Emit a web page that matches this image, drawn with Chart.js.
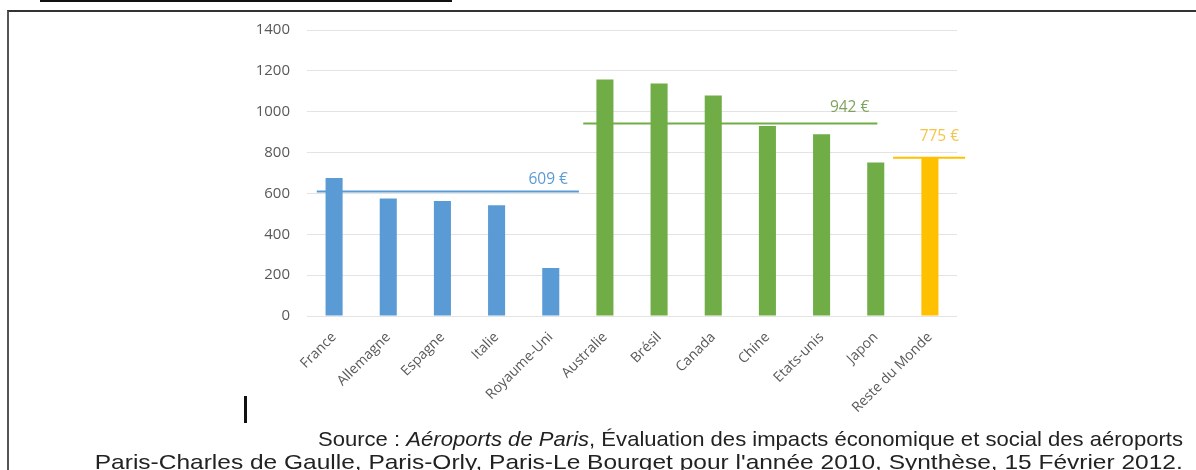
<!DOCTYPE html>
<html>
<head>
<meta charset="utf-8">
<script src="https://cdn.jsdelivr.net/npm/chart.js@4/dist/chart.umd.min.js"></script>
<style>
  html, body { margin: 0; padding: 0; background: #fff; }
  body { width: 1196px; height: 470px; position: relative; overflow: hidden; }
  #wrap { position: absolute; left: 0; top: 0; width: 1196px; height: 470px; }
  #frame { position: absolute; left: 7px; top: 10px; width: 1300px; height: 600px;
           border-left: 2px solid #555; border-top: 2px solid #333; }
  #underline { position: absolute; left: 40px; top: 0px; width: 412px; height: 2px; background: #111; }
  #cursor { position: absolute; left: 244px; top: 396px; width: 3px; height: 27px; background: #111; }
  .src { position: absolute; right: 13px; font-family: "Liberation Sans", Arial, sans-serif;
         font-size: 21px; line-height: 24px; color: #222; white-space: nowrap; transform-origin: right center; }
</style>
</head>
<body>
<div id="frame"></div>
<div id="underline"></div>
<div id="wrap"><canvas id="c" width="1196" height="470"></canvas></div>
<div id="cursor"></div>
<div class="src" id="s1" data-left="318" style="top:427px;">Source : <i>Aéroports de Paris</i>, Évaluation des impacts économique et social des aéroports</div>
<div class="src" id="s2" data-left="95" style="top:450px;">Paris-Charles de Gaulle, Paris-Orly, Paris-Le Bourget pour l'année 2010, Synthèse, 15 Février 2012.</div>
<script>
const categories = ['France','Allemagne','Espagne','Italie','Royaume-Uni','Australie','Brésil','Canada','Chine','Etats-unis','Japon','Reste du Monde'];
const values = [675, 575, 563, 542, 235, 1158, 1138, 1079, 930, 890, 751, 778];
const groups = [0,0,0,0,0,1,1,1,1,1,1,2];
const groupColors = ['#5b9bd5', '#70ad47', '#ffc000'];
const averages = [609, 942, 775];
const averageLabels = ['609 €', '942 €', '775 €'];
const averageSpans = [[-0.32, 4.52], [4.6, 10.03], [10.32, 11.65]];
const averageLabelColors = ['#5b9bd5', '#7ea35f', '#f5c54a'];
const yTicks = [0, 200, 400, 600, 800, 1000, 1200, 1400];

// fit the source lines to their measured extent
['s1', 's2'].forEach(id => {
  const el = document.getElementById(id);
  const target = 1196 - 13 - Number(el.dataset.left);
  const natural = el.getBoundingClientRect().width;
  el.style.transform = 'scaleX(' + (target / natural) + ')';
});

const lineDatasets = averages.map((v, i) => ({
  type: 'line',
  xAxisID: 'x2',
  data: [{x: averageSpans[i][0], y: v}, {x: averageSpans[i][1], y: v}],
  borderColor: groupColors[i],
  borderWidth: 2,
  pointRadius: 0,
  clip: false,
  order: 0
}));

const labelShift = [[-11, -12], [-8, -16], [-6, -21]];
const avgLabelPlugin = {
  id: 'avgLabels',
  afterDatasetsDraw(chart) {
    const ctx = chart.ctx;
    const xs = chart.scales.x2, ys = chart.scales.y;
    ctx.save();
    ctx.font = '15.5px "Open Sans", sans-serif';
    ctx.textAlign = 'right';
    ctx.textBaseline = 'middle';
    averages.forEach((v, i) => {
      ctx.fillStyle = averageLabelColors[i];
      ctx.fillText(averageLabels[i], xs.getPixelForValue(averageSpans[i][1]) + labelShift[i][0], ys.getPixelForValue(v) + labelShift[i][1]);
    });
    ctx.restore();
  }
};

new Chart(document.getElementById('c'), {
  type: 'bar',
  data: {
    labels: categories,
    datasets: [
      {
        type: 'bar',
        data: values,
        backgroundColor: groups.map(g => groupColors[g]),
        grouped: false,
        barPercentage: 1,
        categoryPercentage: 0.315,
        order: 1
      },
      ...lineDatasets
    ]
  },
  options: {
    responsive: false,
    animation: false,
    devicePixelRatio: 1,
    layout: { padding: { left: 250, right: 239, top: 30, bottom: 54 } },
    plugins: { legend: { display: false }, tooltip: { enabled: false } },
    scales: {
      x: {
        type: 'category',
        grid: { display: false, drawTicks: false },
        border: { display: false },
        ticks: {
          color: '#595959', font: { family: '"Open Sans", sans-serif', size: 14 },
          minRotation: 45, maxRotation: 45, padding: 13, autoSkip: false
        },
        afterFit(s) { s.height = 100; }
      },
      x2: {
        type: 'linear', display: false, offset: false, min: -0.5, max: 11.5
      },
      y: {
        min: 0, max: 1400,
        grid: { color: '#e3e3e3', lineWidth: 1, drawTicks: false },
        border: { display: false },
        afterBuildTicks(s) { s.ticks = yTicks.map(v => ({ value: v })); },
        ticks: {
          color: '#595959', font: { family: '"Open Sans", sans-serif', size: 15 }, padding: 17,
          callback: v => String(v)
        },
        afterFit(s) { s.width = 57; }
      }
    }
  },
  plugins: [avgLabelPlugin]
});
</script>
</body>
</html>
